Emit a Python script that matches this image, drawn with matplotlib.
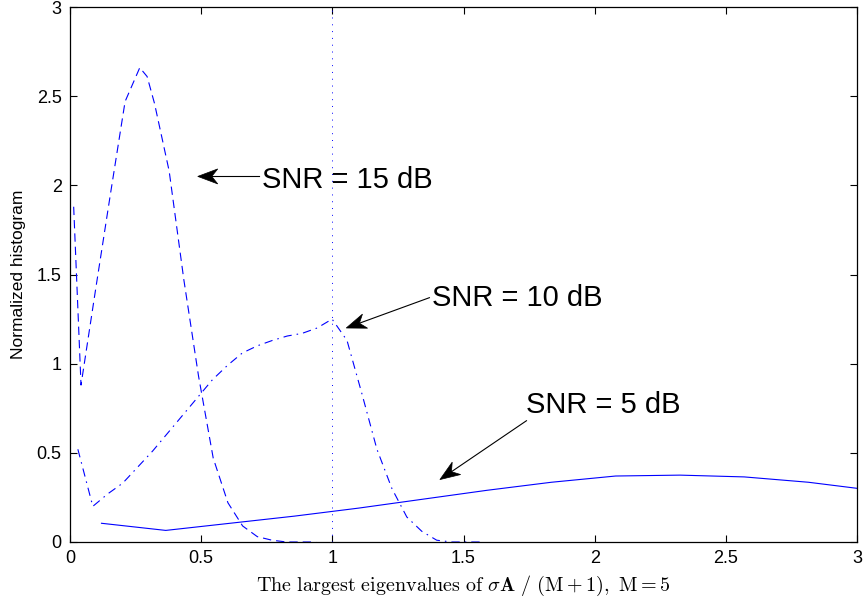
import matplotlib
matplotlib.use("Agg")
import matplotlib.pyplot as plt
from matplotlib.patches import Polygon
import numpy as np

plt.rcParams['font.family'] = ['Liberation Sans', 'DejaVu Sans']
plt.rcParams['mathtext.fontset'] = 'cm'

# Normalized histograms of the largest eigenvalue for three SNR levels
x15 = [0.014, 0.042, 0.098, 0.154, 0.21, 0.266, 0.294, 0.322, 0.378, 0.434,
       0.49, 0.546, 0.602, 0.658, 0.714, 0.77, 0.826, 0.882, 0.938]
y15 = [1.88, 0.88, 1.42, 1.95, 2.47, 2.66, 2.61, 2.46, 2.08, 1.47,
       0.93, 0.47, 0.22, 0.09, 0.03, 0.01, 0.0, 0.0, 0.0]

x10 = [0.03, 0.087, 0.144, 0.201, 0.258, 0.315, 0.372, 0.429, 0.486, 0.543,
       0.600, 0.657, 0.714, 0.771, 0.828, 0.885, 0.942, 0.999, 1.056, 1.113,
       1.170, 1.227, 1.284, 1.341, 1.398, 1.455, 1.512, 1.569]
y10 = [0.52, 0.20, 0.27, 0.33, 0.42, 0.51, 0.61, 0.71, 0.81, 0.91,
       0.99, 1.06, 1.10, 1.13, 1.155, 1.17, 1.20, 1.25, 1.13, 0.83,
       0.52, 0.30, 0.14, 0.06, 0.01, 0.0, 0.0, 0.0]

x5 = [0.12, 0.365, 0.61, 0.855, 1.10, 1.345, 1.59, 1.835, 2.08, 2.325,
      2.57, 2.815, 3.06]
y5 = [0.105, 0.065, 0.105, 0.145, 0.19, 0.24, 0.29, 0.335, 0.37, 0.375,
      0.365, 0.335, 0.29]

labels = ["SNR = 15 dB", "SNR = 10 dB", "SNR = 5 dB"]
xticks = [0, 0.5, 1, 1.5, 2, 2.5, 3]
yticks = [0, 0.5, 1, 1.5, 2, 2.5, 3]

fig = plt.figure(figsize=(8.64, 5.98), dpi=100)
ax = fig.add_axes([70 / 864, 56 / 598, 787 / 864, 535 / 598])

blue = (0, 0, 1)
ax.plot(x15, y15, color=blue, lw=0.8, linestyle=(0, (7.5, 4.5)))
ax.plot(x10, y10, color=blue, lw=0.8, linestyle=(0, (7.5, 4.5, 1.4, 4.5)))
ax.plot(x5, y5, color=blue, lw=0.8, linestyle='-')
ax.plot([1, 1], [0, 3], color=blue, lw=0.7, linestyle=(0, (1, 6)))

ax.set_xlim(0, 3)
ax.set_ylim(0, 3)
ax.set_xticks(xticks)
ax.set_yticks(yticks)
ax.set_xticklabels([f"{t:g}" for t in xticks])
ax.set_yticklabels([f"{t:g}" for t in yticks])
ax.tick_params(direction='in', top=True, right=True, length=5, width=0.8,
               labelsize=13, pad=6)
for s in ax.spines.values():
    s.set_linewidth(0.9)

ax.set_xlabel(r"$\mathrm{The\ largest\ eigenvalues\ of\ }\sigma\mathbf{A}"
              r"\ /\ (\mathrm{M}+1),\ \mathrm{M}=5$", fontsize=14.5, labelpad=5)
ax.set_ylabel("Normalized histogram", fontsize=12.5, labelpad=8)


def swept_arrow(tail, tip, length=20, width=15, back=6):
    """Thin line with a filled, swept-back arrowhead (sizes in pixels)."""
    fig.canvas.draw()
    to_px = ax.transData.transform
    p_tail = np.array(to_px(tail))
    p_tip = np.array(to_px(tip))
    d = p_tip - p_tail
    d = d / np.hypot(*d)
    n = np.array([-d[1], d[0]])
    base = p_tip - d * length
    notch = p_tip - d * (length - back)
    head = [p_tip, base + n * width / 2, notch, base - n * width / 2]
    inv = ax.transData.inverted()
    ax.plot([tail[0], inv.transform(notch)[0]], [tail[1], inv.transform(notch)[1]],
            color='k', lw=0.8)
    ax.add_patch(Polygon(inv.transform(head), closed=True, facecolor='k',
                         edgecolor='k', lw=0.5))


swept_arrow((0.72, 2.05), (0.487, 2.05))
ax.text(0.73, 2.03, labels[0], fontsize=21, ha='left', va='center')

swept_arrow((1.37, 1.37), (1.053, 1.20))
ax.text(1.38, 1.37, labels[1], fontsize=21, ha='left', va='center')

swept_arrow((1.74, 0.68), (1.41, 0.35))
ax.text(1.74, 0.77, labels[2], fontsize=21, ha='left', va='center')

fig.savefig("out.png", dpi=100)
